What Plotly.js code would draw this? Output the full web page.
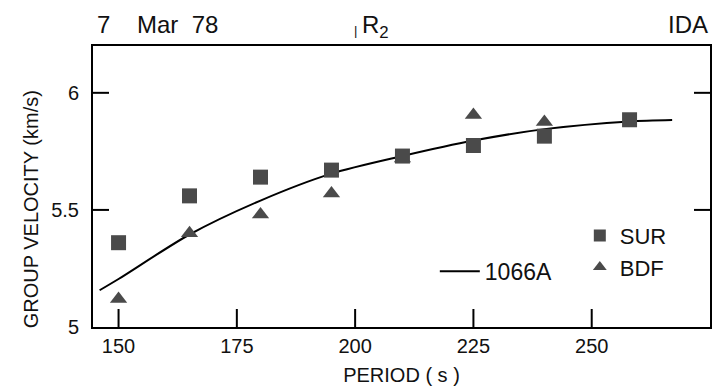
<!DOCTYPE html>
<html>
<head>
<meta charset="utf-8">
<script src="https://cdn.plot.ly/plotly-3.0.1.min.js"></script>
<style>html,body{margin:0;padding:0;background:#fff;}#chart{width:718px;height:392px;}</style>
</head>
<body>
<div id="chart"></div>
<script>
// Data
const periodSUR = [150, 165, 180, 195, 210, 225, 240, 258];
const velSUR    = [5.36, 5.56, 5.64, 5.67, 5.73, 5.775, 5.815, 5.885];
const periodBDF = [150, 165, 180, 195, 210, 225, 240];
const velBDF    = [5.12, 5.40, 5.48, 5.57, 5.72, 5.905, 5.875];
const periodModel = [146, 150, 165, 180, 195, 210, 225, 240, 258, 267];
const velModel    = [5.157, 5.205, 5.395, 5.54, 5.655, 5.73, 5.796, 5.845, 5.878, 5.884];
const xTicks = [150, 175, 200, 225, 250, 275];
const yTicks = [5, 5.5, 6];
const yTickText = ['5', '5.5', '6'];

const FONT = 'Liberation Sans, Arial, sans-serif';
const markColor = '#4a4a4a';

const traces = [
  {
    x: periodModel, y: velModel, type: 'scatter', mode: 'lines', name: '1066A',
    line: {color: '#000', width: 2, shape: 'spline', smoothing: 0.8},
    legend: 'legend2'
  },
  {
    x: periodBDF, y: velBDF, type: 'scatter', mode: 'markers', name: 'BDF',
    marker: {symbol: 'triangle-up', size: 15, color: markColor, line: {width: 0}},
    legend: 'legend'
  },
  {
    x: periodSUR, y: velSUR, type: 'scatter', mode: 'markers', name: 'SUR',
    marker: {symbol: 'square', size: 15, color: markColor, line: {width: 0}},
    legend: 'legend'
  }
];

// Inward tick marks drawn as axis-anchored decorations (positions come from the tick arrays via the axes)
const tickLine = {color: '#000', width: 2};
const tickShapes = []
  .concat(xTicks.filter(v => v > 145 && v < 275).map(v => ({
    type: 'line', layer: 'above', xref: 'x', yref: 'paper', x0: v, x1: v,
    ysizemode: 'pixel', yanchor: 0, y0: 0, y1: 18, line: tickLine})))
  .concat(yTicks.filter(v => v > 5).map(v => ({
    type: 'line', layer: 'above', xref: 'paper', yref: 'y', y0: v, y1: v,
    xsizemode: 'pixel', xanchor: 0, x0: 0, x1: 16, line: tickLine})))
  .concat(yTicks.filter(v => v > 5).map(v => ({
    type: 'line', layer: 'above', xref: 'paper', yref: 'y', y0: v, y1: v,
    xsizemode: 'pixel', xanchor: 1, x0: -16, x1: 0, line: tickLine})));

const layout = {
  width: 718, height: 392,
  margin: {l: 93, r: 8, t: 46, b: 65},
  font: {family: FONT, color: '#111', size: 19},
  xaxis: {
    range: [144.6, 275], tickvals: xTicks, ticktext: xTicks.map(String),
    ticks: '',
    showline: true, linecolor: '#000', linewidth: 2, mirror: true,
    showgrid: false, zeroline: false,
    tickfont: {size: 20, family: FONT, color: '#111'},
    title: {text: 'PERIOD ( s )', font: {size: 20, family: FONT, color: '#111'}, standoff: 12}
  },
  yaxis: {
    range: [5, 6.2], tickvals: yTicks, ticktext: yTickText,
    ticks: '', ticklabelstandoff: 8,
    showline: true, linecolor: '#000', linewidth: 2, mirror: true,
    showgrid: false, zeroline: false,
    tickfont: {size: 20, family: FONT, color: '#111'}
  },
  shapes: tickShapes,
  showlegend: true,
  legend: {
    x: 0.789, y: 0.40, xanchor: 'left', yanchor: 'top',
    bgcolor: 'rgba(0,0,0,0)', font: {size: 22, family: FONT, color: '#111'},
    traceorder: 'reversed', itemwidth: 30, itemsizing: 'constant', tracegroupgap: 0
  },
  legend2: {
    x: 0.554, y: 0.275, xanchor: 'left', yanchor: 'top',
    bgcolor: 'rgba(0,0,0,0)', font: {size: 23, family: FONT, color: '#111'}, itemwidth: 40
  },
  annotations: [
    {text: 'GROUP VELOCITY (km/s)', xref: 'paper', yref: 'paper', x: -0.1, y: 0.42, xanchor: 'center', yanchor: 'middle',
     textangle: -90, showarrow: false, font: {size: 20, family: FONT, color: '#111'}},
    {text: '7    Mar  78', xref: 'paper', yref: 'paper', x: 0.003, y: 1, xanchor: 'left', yanchor: 'bottom',
     yshift: 6, showarrow: false, font: {size: 24, family: FONT, color: '#111'}},
    {text: '|', xref: 'paper', yref: 'paper', x: 0.42, y: 1, xanchor: 'left', yanchor: 'bottom',
     yshift: 6, showarrow: false, font: {size: 13, family: FONT, color: '#111'}},
    {text: 'R<sub>2</sub>', xref: 'paper', yref: 'paper', x: 0.433, y: 1, xanchor: 'left', yanchor: 'bottom',
     yshift: 2, showarrow: false, font: {size: 24, family: FONT, color: '#111'}},
    {text: 'IDA', xref: 'paper', yref: 'paper', x: 1.0, y: 1, xanchor: 'right', yanchor: 'bottom',
     yshift: 6, showarrow: false, font: {size: 24, family: FONT, color: '#111'}}
  ]
};

Plotly.newPlot('chart', traces, layout, {displayModeBar: false});
</script>
</body>
</html>
